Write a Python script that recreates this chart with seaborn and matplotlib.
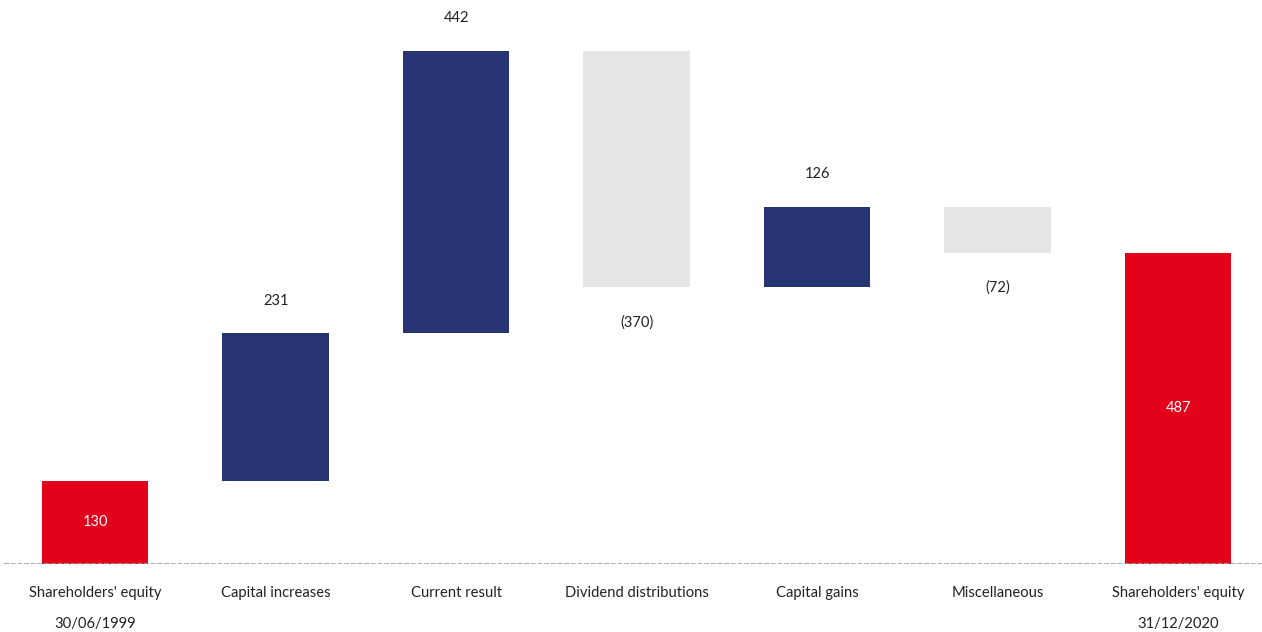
import numpy as np
import pandas as pd
import matplotlib
matplotlib.use("Agg")
import matplotlib.pyplot as plt
import seaborn as sns

categories = [
    "Shareholders' equity\n30/06/1999",
    "Capital increases",
    "Current result",
    "Dividend distributions",
    "Capital gains",
    "Miscellaneous",
    "Shareholders' equity\n31/12/2020",
]
changes = [130, 231, 442, -370, 126, -72, 487]
kinds = ["total", "delta", "delta", "delta", "delta", "delta", "total"]

RED = "#E2001A"
BLUE = "#263473"
GREY = "#E6E6E6"

# waterfall geometry from the changes
bottoms, heights, colors = [], [], []
running = 0
for val, kind in zip(changes, kinds):
    if kind == "total":
        bottoms.append(0)
        heights.append(val)
        colors.append(RED)
        running = val
    else:
        if val >= 0:
            bottoms.append(running)
            heights.append(val)
            colors.append(BLUE)
        else:
            bottoms.append(running + val)
            heights.append(-val)
            colors.append(GREY)
        running += val

df = pd.DataFrame({"category": categories, "height": heights, "bottom": bottoms})

sns.set_theme(style="white")
plt.rcParams["font.family"] = ["Lato", "DejaVu Sans"]

fig = plt.figure(figsize=(12.62, 6.32), dpi=100)
ax = fig.add_axes([4 / 1262, 68 / 632, 1258 / 1262, 564 / 632])

sns.barplot(data=df, x="category", y="height", bottom=df["bottom"].values,
            order=categories, errorbar=None, width=0.59, ax=ax, color=BLUE)
for patch, c in zip(ax.patches, colors):
    patch.set_facecolor(c)
    patch.set_edgecolor("none")

for i, (val, kind) in enumerate(zip(changes, kinds)):
    b, h = bottoms[i], heights[i]
    if kind == "total":
        ax.annotate(f"{val}", (i, b + h / 2), ha="center", va="center",
                    color="white", fontsize=10.5)
    elif val >= 0:
        ax.annotate(f"{val}", (i, b + h), xytext=(0, 23.5), textcoords="offset points",
                    ha="center", va="center", color="#222222", fontsize=10.5)
    else:
        ax.annotate(f"({-val})", (i, b), xytext=(0, -25), textcoords="offset points",
                    ha="center", va="center", color="#222222", fontsize=10.5)

ax.axhline(0, color="#A0A0A0", lw=1.2, ls=(0, (3, 1)))
ax.set_xlim(-0.505, 6.465)
ax.set_ylim(0, 883)
ax.set_yticks([])
ax.set_xlabel("")
ax.set_ylabel("")
for s in ax.spines.values():
    s.set_visible(False)
ax.tick_params(axis="x", length=0, pad=16, labelsize=10.6, labelcolor="#222222")
for lbl in ax.get_xticklabels():
    lbl.set_linespacing(2.55)

fig.savefig("out.png", dpi=100)
